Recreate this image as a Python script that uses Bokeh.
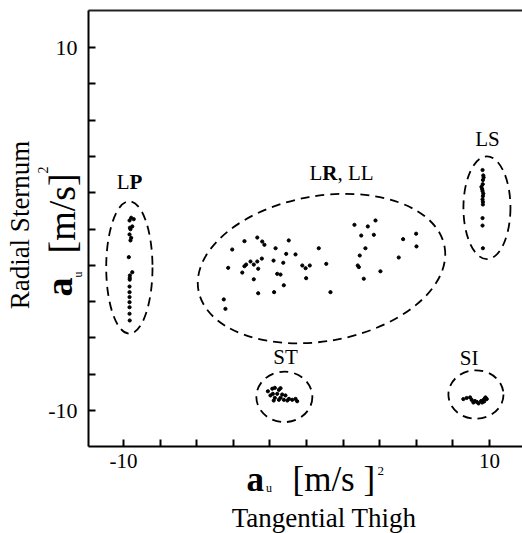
import math
from bokeh.plotting import figure
from bokeh.models import Range1d, LinearAxis, FixedTicker, Label
from bokeh.embed import file_html
from bokeh.resources import INLINE

# ---------------- data ----------------
lp_x = [-9.67, -9.58, -9.44, -9.65, -9.52, -9.62, -9.67, -9.58, -9.62, -9.71, -9.52,
        -9.65, -9.66, -9.66, -9.67, -9.67, -9.67, -9.67, -9.67, -9.67, -9.66]
lp_y = [0.47, 0.62, 0.54, 0.07, 0.14, -0.01, -0.30, -0.49, -0.63, -1.55, -2.38,
        -2.56, -2.70, -2.79, -3.17, -3.48, -3.75, -4.03, -4.31, -4.67, -5.04]

lrll_x = [-4.06, -3.39, -2.69, -2.42, -2.30, -1.69, -0.97, -1.11, -0.60, -4.28,
          -3.51, -3.39, -3.30, -3.06, -2.88, -2.69, -2.44, -2.64, -1.80, -1.27,
          -1.60, -1.42, -2.88, -2.64, -1.77, -1.24, -4.52, -4.43, 0.67, -0.23,
          -0.05, 0.18, -0.02, 1.08, 1.31, 2.62, 3.35, 3.77, 2.99, 3.68,
          3.22, 2.91, 2.80, 2.86, 3.13, 4.04, 5.28, 5.99, 6.01, 5.04]
lrll_y = [-1.13, -0.67, -0.47, -0.69, -0.87, -1.06, -0.63, -1.37, -1.40, -2.14,
          -2.40, -2.05, -1.96, -1.79, -1.96, -1.79, -1.63, -2.19, -1.74, -1.86,
          -2.47, -2.51, -2.77, -3.54, -3.48, -3.10, -3.88, -4.40, -1.06, -2.01,
          -2.16, -2.01, -2.71, -1.92, -3.48, 0.23, 0.14, 0.47, -0.36, -0.32,
          -1.06, -1.46, -2.01, -2.10, -2.74, -2.33, -0.56, -0.26, -0.96, -1.57]

ls_x = [9.62, 9.66, 9.68, 9.64, 9.63, 9.56, 9.60, 9.62, 9.66, 9.64, 9.62, 9.64,
        9.64, 9.62, 9.62, 9.64]
ls_y = [3.25, 2.95, 2.84, 2.70, 2.47, 2.32, 2.20, 2.09, 1.95, 1.81, 1.63, 1.50,
        1.35, 0.60, 0.19, -1.06]

st_x = [-2.11, -1.87, -1.73, -1.51, -1.42, -1.84, -1.60, -1.33, -1.73, -1.51,
        -1.79, -1.24, -1.05, -0.96, -0.78, -0.60, -0.51, -1.97, -1.42, -1.15]
st_y = [-8.94, -8.80, -8.75, -8.86, -8.77, -9.08, -9.08, -9.12, -9.30, -9.41,
        -9.45, -9.41, -9.45, -9.36, -9.41, -9.36, -9.49, -9.17, -9.30, -9.17]

si_x = [8.57, 8.75, 8.94, 9.03, 9.12, 9.31, 9.40, 9.54, 9.67, 9.75, 9.85, 9.71,
        9.78, 9.21, 9.60]
si_y = [-9.37, -9.31, -9.28, -9.42, -9.56, -9.53, -9.61, -9.48, -9.42, -9.34,
        -9.37, -9.50, -9.28, -9.48, -9.56]

# cluster envelopes (dashed ellipses)
env_name = ["LP", "LR, LL", "LS", "ST", "SI"]
env_cx = [-9.68, 0.82, 9.86, -1.21, 9.26]
env_cy = [-2.12, -2.18, 1.17, -9.25, -9.12]
env_w = [2.53, 13.66, 2.57, 3.06, 3.01]
env_h = [7.30, 8.00, 5.66, 2.78, 2.67]
env_angle_deg = [0, 10, 0, 0, 0]

x_ticks = [-10, -8, -6, -4, -2, 0, 2, 4, 6, 8, 10]
y_ticks = [-10, -8, -6, -4, -2, 0, 2, 4, 6, 8, 10]
tick_labels = {-10: "-10", 10: "10"}

# visible axis box (data units)
x_lo, x_hi = -11.91, 11.80
y_lo, y_hi = -11.98, 12.04

SERIF = "Liberation Serif"
W, H = 522, 533

# scale of the picture: pixel of value 0 and pixels per unit
SX0, SXK = 306.0, 18.3
SY0, SYK = 228.5, 18.15


def dx(px):
    return (px - SX0) / SXK


def dy(py):
    return (SY0 - py) / SYK


# ---------------- figure ----------------
# the frame spans the whole canvas so that titles placed in data space are visible;
# the axes are pinned at the edges of the visible box with fixed_location
p = figure(width=W, height=H,
           x_range=Range1d(dx(0), dx(W)), y_range=Range1d(dy(H), dy(0)),
           output_backend="svg", toolbar_location=None,
           min_border_left=0, min_border_right=0, min_border_top=0,
           min_border_bottom=0)
p.grid.visible = False
p.outline_line_color = None
p.background_fill_color = "white"
p.border_fill_color = "white"

xa, ya = p.xaxis[0], p.yaxis[0]
xa.fixed_location = y_lo
xa.bounds = (x_lo, x_hi)
ya.fixed_location = x_lo
ya.bounds = (y_lo, y_hi)

for ax, ticks, fs, so in ((xa, x_ticks, "21px", 8), (ya, y_ticks, "22px", 11)):
    ax.ticker = FixedTicker(ticks=ticks)
    ax.major_label_overrides = {t: tick_labels.get(t, "") for t in ticks}
    ax.major_tick_in = 7
    ax.major_tick_out = 0
    ax.minor_tick_line_color = None
    ax.major_tick_line_width = 2
    ax.axis_line_width = 2
    ax.axis_line_color = "black"
    ax.major_tick_line_color = "black"
    ax.major_label_text_font = SERIF
    ax.major_label_text_font_size = fs
    ax.major_label_text_color = "black"
    ax.major_label_standoff = so

top = LinearAxis(ticker=FixedTicker(ticks=[]), major_label_text_font_size="0px",
                 major_tick_out=0, major_tick_in=0, minor_tick_out=0, minor_tick_in=0,
                 major_label_standoff=0, axis_line_width=2, axis_line_color="#222222",
                 fixed_location=y_hi, bounds=(x_lo, x_hi))
p.add_layout(top, "above")

# envelopes
p.ellipse(x=env_cx, y=env_cy, width=env_w, height=env_h,
          angle=[math.radians(a) for a in env_angle_deg],
          fill_color=None, line_color="black", line_width=1.8, line_dash="9 6")

# points
for xs, ys in ((lp_x, lp_y), (lrll_x, lrll_y), (ls_x, ls_y), (st_x, st_y), (si_x, si_y)):
    p.scatter(xs, ys, size=3.2, color="black")


# ---------------- texts ----------------
def lab(text, px, py, size, bold=False, align="left", angle=0.0):
    p.add_layout(Label(x=dx(px), y=dy(py), text=text, text_font=SERIF,
                       text_font_size=f"{size}px",
                       text_font_style="bold" if bold else "normal",
                       text_align=align, text_baseline="middle", angle=angle,
                       text_color="black"))


# cluster names
lab("L", 129, 181, 21, align="right")
lab("P", 129, 181, 21, bold=True)
lab("L", 309, 172, 21)
lab("R", 321.8, 172, 21, bold=True)
lab(", LL", 336.9, 172, 21)
lab("LS", 487, 138.5, 21, align="center")
lab("ST", 285, 356, 21, align="center")
lab("SI", 468.6, 357, 21, align="center")

# x title
lab("a", 246, 478.5, 35, bold=True)
lab("u", 265.5, 487, 12)
lab("[m/s ]", 292, 478.5, 35)
lab("2", 377, 470.5, 13)
lab("Tangential Thigh", 323.6, 517, 27, align="center")

# y title (rotated, reads bottom to top)
R = math.pi / 2
lab("Radial Sternum", 19.5, 224.5, 27, align="center", angle=R)
lab("a", 58.5, 296, 38, bold=True, angle=R)
lab("u", 77, 277, 12, angle=R)
lab("[m/s]", 61.5, 253, 38, angle=R)
lab("2", 42.5, 173, 14, angle=R)

open("out.html", "w").write(file_html(p, INLINE))
